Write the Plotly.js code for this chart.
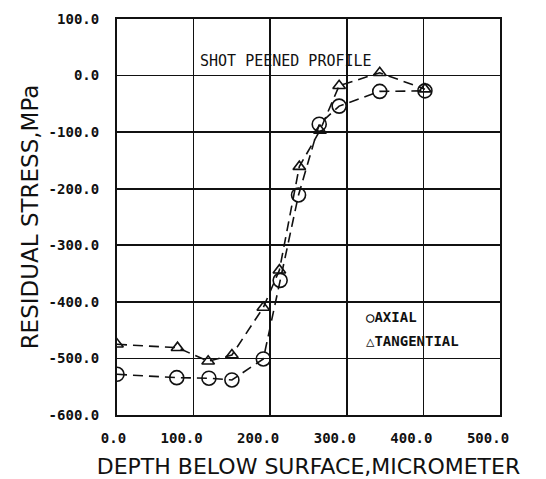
<!DOCTYPE html>
<html>
<head>
<meta charset="utf-8">
<script src="https://cdn.plot.ly/plotly-3.0.1.min.js"></script>
<style>
  html, body { margin: 0; padding: 0; background: #fff; }
  #chart { width: 546px; height: 479px; }
</style>
</head>
<body>
<div id="chart"></div>
<script>
// Residual stress vs depth below surface for a shot peened part
const axialDepth = [0, 78, 120, 150, 191, 213, 237, 264, 290, 343, 402];
const axialStress = [-528, -534, -535, -538, -501, -362, -211, -86, -54, -28, -27];

const tangDepth = [0, 79, 119, 150, 191, 212, 238, 265, 290, 343, 402];
const tangStress = [-475, -481, -505, -494, -410, -344, -161, -97, -18, 5, -24];

const xTickVals = [0, 100, 200, 300, 400, 500];
const xTickText = ['\u00a0\u00a00.0', '100.0', '200.0', '300.0', '400.0', '500.0'];
const yTickVals = [100, 0, -100, -200, -300, -400, -500, -600];
const yTickText = ['100.0', '0.0', '-100.0', '-200.0', '-300.0', '-400.0', '-500.0', '-600.0'];

const ink = '#111';
const mono = '"DejaVu Sans Mono", "Liberation Mono", monospace';
const sans = '"DejaVu Sans", "Liberation Sans", sans-serif';

const lineStyle = { color: ink, width: 1.6, dash: '10px,6px' };

const traces = [
  {
    x: axialDepth, y: axialStress, name: 'AXIAL',
    mode: 'lines+markers', type: 'scatter', showlegend: false,
    line: lineStyle,
    marker: { symbol: 'circle-open', size: 14, color: ink, line: { width: 1.6, color: ink } }
  },
  {
    x: tangDepth, y: tangStress, name: 'TANGENTIAL',
    mode: 'lines+markers', type: 'scatter', showlegend: false,
    line: lineStyle,
    marker: { symbol: 'triangle-up-open', size: 11, color: ink, line: { width: 1.6, color: ink } }
  }
];

const axisCommon = {
  showgrid: true, gridcolor: ink, gridwidth: 1.6,
  showline: true, linecolor: ink, linewidth: 2, mirror: true,
  zeroline: false, ticks: '',
  tickfont: { family: mono, size: 14, color: ink, weight: 'bold' }
};

const layout = {
  width: 546, height: 479,
  margin: { l: 117, r: 46, t: 19, b: 64 },
  paper_bgcolor: '#fff', plot_bgcolor: '#fff',
  showlegend: false,
  xaxis: Object.assign({}, axisCommon, {
    range: [0, 500], tickmode: 'array', tickvals: xTickVals, ticktext: xTickText,
    ticklabelshift: -12, ticklabelstandoff: 9,
    title: { text: 'DEPTH BELOW SURFACE,MICROMETER', font: { family: sans, size: 22, color: ink }, standoff: 14 }
  }),
  yaxis: Object.assign({}, axisCommon, {
    range: [-600, 100], tickmode: 'array', tickvals: yTickVals, ticktext: yTickText,
    ticklabelstandoff: 13,
    title: { text: 'RESIDUAL STRESS,MPa', font: { family: sans, size: 23, color: ink }, standoff: 4 }
  }),
  annotations: [
    { x: 106, y: 25, xref: 'x', yref: 'y', xanchor: 'left', yanchor: 'middle', showarrow: false,
      text: 'SHOT PEENED PROFILE', font: { family: mono, size: 15, color: ink } },
    { x: 322, y: -426, xref: 'x', yref: 'y', xanchor: 'left', yanchor: 'middle', showarrow: false,
      text: '\u25CBAXIAL', font: { family: mono, size: 14, color: ink, weight: 'bold' } },
    { x: 322, y: -470, xref: 'x', yref: 'y', xanchor: 'left', yanchor: 'middle', showarrow: false,
      text: '\u25B3TANGENTIAL', font: { family: mono, size: 14, color: ink, weight: 'bold' } }
  ]
};

Plotly.newPlot('chart', traces, layout, { displayModeBar: false, staticPlot: true });
</script>
</body>
</html>
